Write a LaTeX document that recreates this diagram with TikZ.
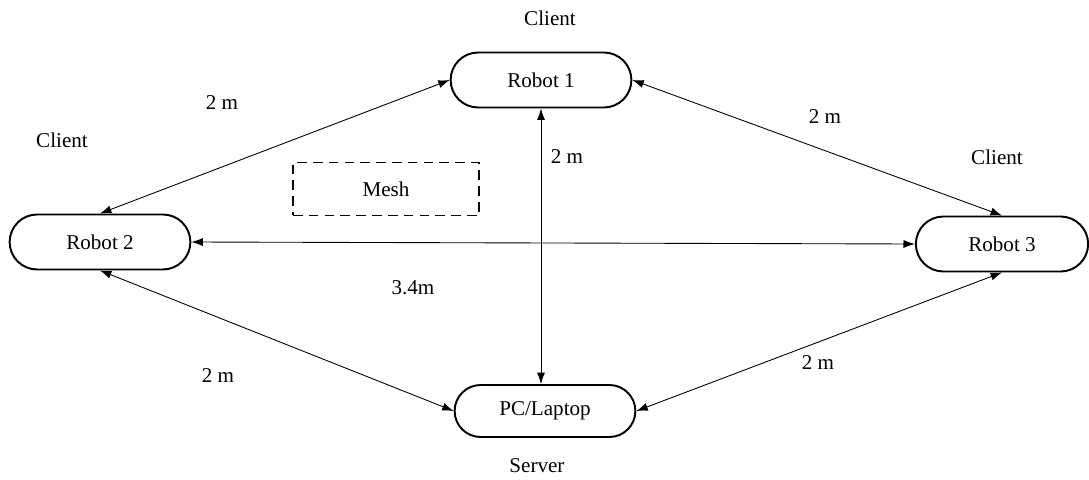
\documentclass[tikz,border=0pt]{standalone}
\usepackage{fontspec}
\setmainfont{Liberation Serif}
\usepackage{tikz}
\usetikzlibrary{shapes,arrows,arrows.meta}
\usetikzlibrary{positioning}
\tikzstyle{arrow} = [line width=0.5pt,<->,>={Latex[length=6.5pt,width=4.6pt]}]
\tikzstyle{robot} = [
    rounded rectangle, minimum width=3.85cm, minimum height=1.1cm, text centered,
    line width=1.1pt, draw=black, font=\fontsize{12}{14}\selectfont]
\tikzstyle{lbl} = [font=\fontsize{12}{14}\selectfont]

\begin{document}
\begin{tikzpicture}[x=0.02cm, y=-0.02cm]
\useasboundingbox (0,0) rectangle (1089,480);

\node (robot1) [robot] at (541,80) {Robot 1};
\node (robot2) [robot] at (100,242) {Robot 2};
\node (robot3) [robot, minimum width=3.68cm] at (1002,244) {Robot 3};
\node (pc) [robot, minimum height=1.04cm] at (545,411) {PC/Laptop};

\node (mesh) [draw, dash pattern=on 5.5pt off 3.5pt, line width=1.1pt, minimum width=3.72cm,
    minimum height=1.06cm, font=\fontsize{12}{14}\selectfont] at (386,189) {Mesh};

% roles
\node (c1) [lbl] at (550,18) {Client};
\node (c2) [lbl] at (62,140) {Client};
\node (c3) [lbl] at (997,157) {Client};
\node (srv) [lbl] at (537,466) {Server};

% links
\draw [arrow] (robot1.west) -- (robot2.north);
\draw [arrow] (robot1.east) -- (robot3.north);
\draw [arrow] (robot1.south) -- (robot1.south |- pc.north);
\draw [arrow] (robot2.east) -- (robot3.west);
\draw [arrow] (robot2.south) -- (pc.west);
\draw [arrow] (pc.east) -- (robot3.south);

% distances
\node (d1) [lbl] at (222,103) {2 m};
\node (d2) [lbl] at (825,117) {2 m};
\node (d3) [lbl] at (567,157) {2 m};
\node (d4) [lbl] at (413,288) {3.4m};
\node (d5) [lbl] at (218,376) {2 m};
\node (d6) [lbl] at (818,363) {2 m};
\end{tikzpicture}
\end{document}
